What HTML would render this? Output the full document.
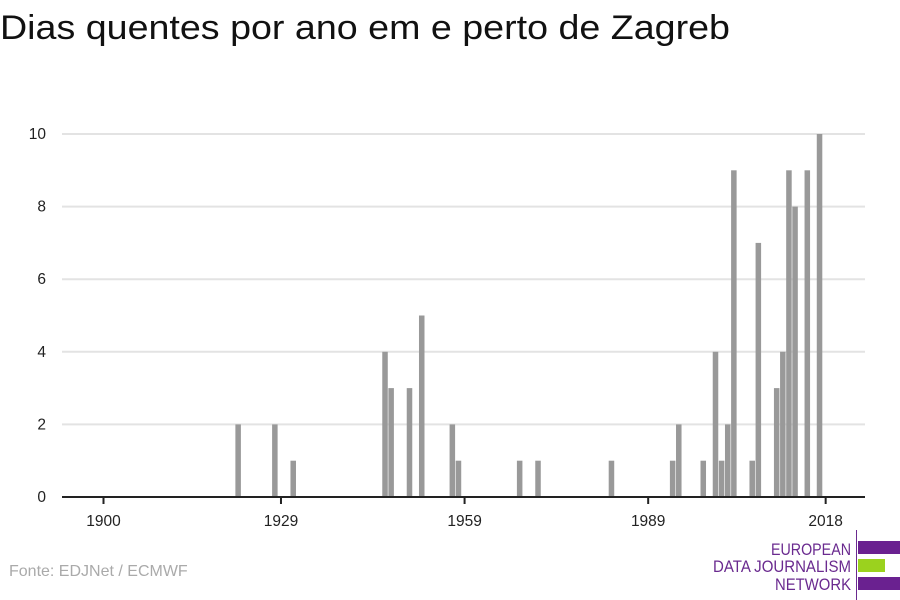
<!DOCTYPE html>
<html><head><meta charset="utf-8"><style>
body{margin:0;background:#fff;}
svg{display:block;font-family:"Liberation Sans",sans-serif;}
</style></head><body>
<svg id="chart" width="900" height="600">
<text x="0" y="39" font-size="34" fill="#111" textLength="730" lengthAdjust="spacingAndGlyphs">Dias quentes por ano em e perto de Zagreb</text>
<g id="grid"></g><g id="bars"></g><g id="axes"></g>
<text x="9" y="576" font-size="16" fill="#aaa">Fonte: EDJNet / ECMWF</text>
<g>
<text x="851" y="555" font-size="17" fill="#6a2a8f" text-anchor="end" textLength="80" lengthAdjust="spacingAndGlyphs">EUROPEAN</text>
<text x="851" y="572" font-size="17" fill="#6a2a8f" text-anchor="end" textLength="138" lengthAdjust="spacingAndGlyphs">DATA JOURNALISM</text>
<text x="851" y="590" font-size="17" fill="#6a2a8f" text-anchor="end" textLength="76" lengthAdjust="spacingAndGlyphs">NETWORK</text>
<line x1="856.5" y1="530" x2="856.5" y2="600" stroke="#6a2a8f" stroke-width="1"/>
<rect x="858" y="541" width="42" height="13" fill="#6a2190"/>
<rect x="858" y="559" width="27" height="13" fill="#9bd21e"/>
<rect x="858" y="577" width="42" height="13" fill="#6a2190"/>
</g>
</svg>
<script>
const years=[1922,1928,1931,1946,1947,1950,1952,1957,1958,1968,1971,1983,1993,1994,1998,2000,2001,2002,2003,2006,2007,2010,2011,2012,2013,2015,2017];
const counts=[2,2,1,4,3,3,5,2,1,1,1,1,1,2,1,4,1,2,9,1,7,3,4,9,8,9,10];
const yTicks=[0,2,4,6,8,10];
const xTicks=[1900,1929,1959,1989,2018];
const NS="http://www.w3.org/2000/svg";
const step=6.12;
const x=yr=>103.5+(yr-1900)*step;
const y=v=>497-v*36.3;
function mk(tag,attrs,parent){const e=document.createElementNS(NS,tag);for(const k in attrs)e.setAttribute(k,attrs[k]);parent.appendChild(e);return e;}
const grid=document.getElementById('grid'),bars=document.getElementById('bars'),axes=document.getElementById('axes');
yTicks.forEach(t=>{
  if(t>0){const l=mk('line',{x1:62,x2:865,y1:y(t),y2:y(t),stroke:'#e3e3e3','stroke-width':2},grid);
  
  }
  const tx=mk('text',{x:46,y:y(t)+5,'font-size':15.5,fill:'#222','text-anchor':'end'},axes);
  tx.textContent=t;
  
  
});
years.forEach((yr,i)=>{
  const r=mk('rect',{x:x(yr)-step/2+0.3,y:y(counts[i]),width:step-0.6,height:497-y(counts[i]),fill:'#999'},bars);
  
  
});
const ax=mk('line',{x1:62,x2:865,y1:497,y2:497,stroke:'#222','stroke-width':2},axes);


xTicks.forEach(t=>{
  const l=mk('line',{x1:x(t),x2:x(t),y1:497,y2:504,stroke:'#222','stroke-width':2},axes);
  
  
  const tx=mk('text',{x:x(t),y:526,'font-size':15.5,fill:'#222','text-anchor':'middle'},axes);
  tx.textContent=t;
  
  
});
</script>
</body></html>
